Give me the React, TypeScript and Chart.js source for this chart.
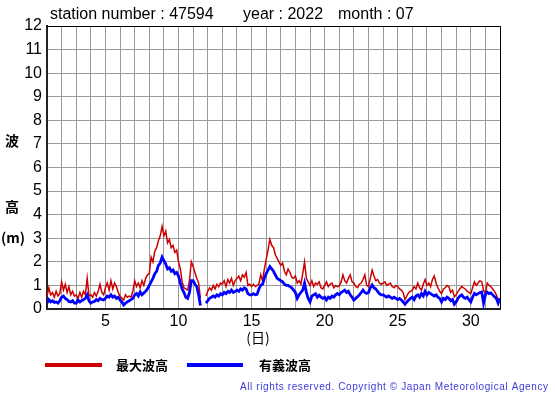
import React, { useEffect, useRef } from "react";
import { Chart, registerables } from "chart.js";

Chart.register(...registerables);

// ---- data (3-hourly samples, 8 per day, day 1 00:00 .. day 32 00:00) ----
const FIRST_DAY = 1;
const LAST_DAY = 32;
const SAMPLES_PER_DAY = 8;
const Y_MAX = 12;
const X_LABEL_DAYS = [5, 10, 15, 20, 25, 30];

const TITLE_PARTS = ["station number : 47594", "year : 2022", "month : 07"];
const Y_TITLE_PARTS = ["波", "高", "(m)"];
const X_TITLE = "(日)";
const SERIES_NAMES = ["最大波高", "有義波高"];
const COPYRIGHT = "All rights reserved. Copyright © Japan Meteorological Agency";

// 最大波高 (max wave height, m)
const maxWave: (number | null)[] = [
  0.55, 0.9, 0.6, 0.7, 0.5, 0.75, 0.55, 0.65,
  1.15, 0.8, 1.05, 0.7, 0.95, 0.6, 0.75, 0.55,
  0.6, 0.45, 0.7, 0.5, 0.75, 0.6, 1.3, 0.55,
  0.6, 0.5, 0.7, 0.55, 0.75, 1.05, 0.7, 0.6,
  0.9, 1.1, 0.8, 1.2, 0.85, 1.1, 0.95, 0.7,
  0.55, 0.45, 0.38, 0.6, 0.5, 0.55, 0.5, 0.75,
  1.2, 0.95, 1.1, 0.9, 1.2, 1.0, 1.3, 1.45,
  1.5, 2.2, 2.0, 2.45, 2.6, 2.9, 3.1, 3.5,
  3.1, 3.3, 2.8, 2.95, 2.6, 2.7, 2.4, 2.5,
  2.0, 1.7, 1.15, 0.9, 0.85, 0.8, 1.2, 2.0,
  1.8, 1.55, 1.3, 1.1, 0.45, null, null, 0.55,
  0.75, 0.9, 0.8, 1.0, 0.85, 1.05, 0.95, 1.1,
  1.05, 1.2, 0.95, 1.25, 1.1, 1.3, 1.0, 1.2,
  1.3, 1.4, 1.2, 1.45, 1.35, 1.55, 1.0, 1.05,
  0.95, 1.05, 0.95, 1.0, 1.05, 1.45, 1.2, 1.7,
  2.1, 2.5, 2.95, 2.7, 2.6, 2.3, 2.15, 2.0,
  1.85, 1.95, 1.6, 1.45, 1.7, 1.55, 1.35, 1.3,
  1.4, 1.1, 1.2, 1.05, 1.5, 2.0, 1.3, 1.15,
  1.0, 1.2, 0.95, 1.1, 1.05, 1.15, 0.9, 0.85,
  1.0, 1.15, 0.95, 1.05, 1.1, 0.9, 1.0, 0.95,
  0.98, 1.15, 1.45, 1.2, 1.1, 1.3, 1.45, 1.15,
  1.1, 0.95, 0.9, 1.05, 1.1, 1.25, 1.45, 1.0,
  0.95, 1.3, 1.65, 1.4, 1.2, 1.25, 1.1, 1.05,
  1.1, 1.15, 1.0, 1.05, 1.1, 0.95, 0.9, 1.0,
  0.95, 0.85, 0.8, 0.7, 0.4, 0.55, 0.7, 0.75,
  0.8, 0.95, 0.85, 1.1, 0.9, 0.8, 1.05, 1.25,
  1.0, 1.1, 0.95, 1.25, 1.4, 1.1, 0.9, 0.75,
  0.65, 0.85, 0.9, 1.0, 0.95, 0.7, 0.8, 0.52,
  0.6, 0.75, 0.85, 0.95, 0.9, 0.85, 0.75, 0.7,
  0.65, 0.9, 1.15, 1.0, 1.1, 1.2, 1.15, 0.8,
  0.65, 1.1, 1.0, 0.95, 0.85, 0.75, 0.6, 0.38,
  0.45,
];

// 有義波高 (significant wave height, m)
const sigWave: (number | null)[] = [
  0.25, 0.4, 0.3, 0.35, 0.28, 0.3, 0.25, 0.35,
  0.5, 0.55, 0.45, 0.4, 0.32, 0.3, 0.35, 0.25,
  0.25, 0.38, 0.3, 0.35, 0.4, 0.45, 0.6, 0.35,
  0.25, 0.3, 0.32, 0.4, 0.35, 0.45, 0.4, 0.38,
  0.45, 0.55, 0.5, 0.6, 0.5, 0.55, 0.45, 0.5,
  0.38, 0.3, 0.17, 0.25, 0.3, 0.35, 0.4, 0.45,
  0.6, 0.66, 0.55, 0.72, 0.6, 0.68, 0.75, 0.85,
  1.0, 1.15, 1.3, 1.5, 1.6, 1.85, 1.95, 2.2,
  2.05, 1.9, 1.7, 1.75, 1.6, 1.65, 1.5, 1.55,
  1.4, 1.1, 0.85, 0.7, 0.5, 0.45, 0.7, 1.2,
  1.2, 1.05, 0.95, 0.6, 0.15, null, null, 0.25,
  0.35, 0.45, 0.5, 0.55, 0.5, 0.6, 0.55, 0.65,
  0.6, 0.7, 0.65, 0.75, 0.7, 0.8, 0.7, 0.75,
  0.8, 0.75, 0.85, 0.8, 0.9, 0.85, 0.65, 0.6,
  0.6, 0.65, 0.6, 0.62, 0.85, 1.0, 1.05, 1.3,
  1.5, 1.65, 1.8, 1.7, 1.6, 1.45, 1.3, 1.25,
  1.2, 1.15, 1.05, 1.0, 1.0, 0.95, 0.9, 0.8,
  0.7, 0.45, 0.6, 0.7, 0.8, 1.1, 0.7, 0.45,
  0.3, 0.55, 0.6, 0.65, 0.5, 0.58, 0.5, 0.45,
  0.5, 0.38, 0.5, 0.45, 0.55, 0.5, 0.6, 0.66,
  0.6, 0.7, 0.75, 0.8, 0.7, 0.75, 0.6, 0.5,
  0.38, 0.45, 0.52, 0.6, 0.7, 0.8, 0.7, 0.66,
  0.7, 0.9, 1.02, 0.9, 0.85, 0.75, 0.65, 0.6,
  0.6, 0.55, 0.5, 0.55, 0.5, 0.45, 0.5, 0.45,
  0.4, 0.45, 0.38, 0.3, 0.2, 0.3, 0.38, 0.45,
  0.5, 0.4, 0.55, 0.6, 0.5, 0.65, 0.55, 0.75,
  0.6, 0.7, 0.65, 0.6, 0.55, 0.6, 0.5, 0.45,
  0.3, 0.45, 0.4, 0.5, 0.45, 0.35, 0.4, 0.2,
  0.3, 0.45, 0.55, 0.6, 0.5, 0.45, 0.5, 0.4,
  0.3, 0.5, 0.66, 0.6, 0.65, 0.7, 0.72, 0.25,
  0.6, 0.72, 0.65, 0.68, 0.6, 0.52, 0.45, 0.25,
  0.45,
];

const RED = "#cc0000";
const BLUE = "#0000ff";

const toPoints = (arr: (number | null)[]) =>
  arr.map((v, i) => ({ x: FIRST_DAY + i / SAMPLES_PER_DAY, y: v }));

const JP_FONT = "'Noto Sans CJK JP', 'Noto Sans', sans-serif";
const LAT_FONT = "'Liberation Sans', Arial, Helvetica, sans-serif";

const decorPlugin = {
  id: "decor",
  afterDraw(chart: any) {
    const { ctx, chartArea: a } = chart;
    ctx.save();
    // frame top & right
    ctx.strokeStyle = "#000";
    ctx.lineWidth = 1;
    ctx.beginPath();
    ctx.moveTo(a.left, a.top + 0.5);
    ctx.lineTo(a.right + 0.5, a.top + 0.5);
    ctx.lineTo(a.right + 0.5, a.bottom);
    ctx.stroke();

    // title
    ctx.fillStyle = "#000";
    ctx.textBaseline = "middle";
    ctx.textAlign = "left";
    ctx.font = `16px ${LAT_FONT}`;
    const titleX = [50, 243, 338];
    TITLE_PARTS.forEach((t, i) => ctx.fillText(t, titleX[i], 15));

    // y-axis title (vertical stacked)
    ctx.textAlign = "center";
    ctx.font = `bold 14px ${JP_FONT}`;
    const yTitlePos = [[12, 141], [12, 207], [13, 238]];
    Y_TITLE_PARTS.forEach((t, i) => ctx.fillText(t, yTitlePos[i][0], yTitlePos[i][1]));

    // x-axis title
    ctx.font = `14px ${JP_FONT}`;
    ctx.fillText(X_TITLE, 258, 338);

    // legend
    const legendColors = [RED, BLUE];
    const lineX = [[45, 102], [187, 243]];
    const textX = [116, 259];
    ctx.textAlign = "left";
    ctx.font = `bold 13px ${JP_FONT}`;
    SERIES_NAMES.forEach((name, i) => {
      ctx.strokeStyle = legendColors[i];
      ctx.lineWidth = 4;
      ctx.beginPath();
      ctx.moveTo(lineX[i][0], 365);
      ctx.lineTo(lineX[i][1], 365);
      ctx.stroke();
      ctx.fillText(name, textX[i], 365);
    });

    // copyright
    ctx.font = `10px ${LAT_FONT}`;
    ctx.fillStyle = "#3c3cd8";
    const w0 = ctx.measureText(COPYRIGHT).width;
    const targetW = 308;
    const sp = Math.max(0, (targetW - w0) / (COPYRIGHT.length - 1));
    (ctx as any).letterSpacing = `${sp}px`;
    ctx.fillText(COPYRIGHT, 240, 387);
    (ctx as any).letterSpacing = "0px";
    ctx.restore();
  },
};

export default function App() {
  const ref = useRef<HTMLCanvasElement | null>(null);

  useEffect(() => {
    if (!ref.current) return;
    const chart = new Chart(ref.current, {
      type: "line",
      data: {
        datasets: [
          {
            label: SERIES_NAMES[0],
            data: toPoints(maxWave) as any,
            borderColor: RED,
            backgroundColor: RED,
            borderWidth: 1.5,
            pointRadius: 0,
            tension: 0,
            spanGaps: false,
            order: 2,
          },
          {
            label: SERIES_NAMES[1],
            data: toPoints(sigWave) as any,
            borderColor: BLUE,
            backgroundColor: BLUE,
            borderWidth: 2.8,
            pointRadius: 0,
            tension: 0,
            spanGaps: false,
            order: 1,
          },
        ],
      },
      options: {
        responsive: false,
        animation: false,
        devicePixelRatio: 1,
        layout: { padding: { left: 0, top: 26, right: 55, bottom: 66 } },
        plugins: {
          legend: { display: false },
          title: { display: false },
          tooltip: { enabled: false },
        },
        scales: {
          x: {
            type: "linear",
            min: FIRST_DAY,
            max: LAST_DAY,
            afterFit: (s: any) => {
              s.height = 20;
            },
            ticks: {
              stepSize: 1,
              autoSkip: false,
              maxRotation: 0,
              minRotation: 0,
              padding: 3,
              color: "#000",
              font: { family: LAT_FONT, size: 16 },
              callback: (v: any) => (X_LABEL_DAYS.includes(Number(v)) ? String(v) : ""),
            },
            grid: { color: "#9a9a9a", lineWidth: 1, drawTicks: false },
            border: { color: "#222", width: 2 },
          },
          y: {
            min: 0,
            max: Y_MAX,
            afterFit: (s: any) => {
              s.width = 47;
            },
            ticks: {
              stepSize: 1,
              padding: 5,
              color: "#000",
              font: { family: LAT_FONT, size: 16 },
            },
            grid: { color: "#9a9a9a", lineWidth: 1, drawTicks: false },
            border: { color: "#222", width: 2 },
          },
        },
      },
      plugins: [decorPlugin],
    });
    return () => chart.destroy();
  }, []);

  return (
    <div style={{ position: "absolute", left: 0, top: 0, width: 555, height: 395, background: "#fff" }}>
      <canvas ref={ref} width={555} height={395} style={{ display: "block", width: 555, height: 395 }} />
    </div>
  );
}
